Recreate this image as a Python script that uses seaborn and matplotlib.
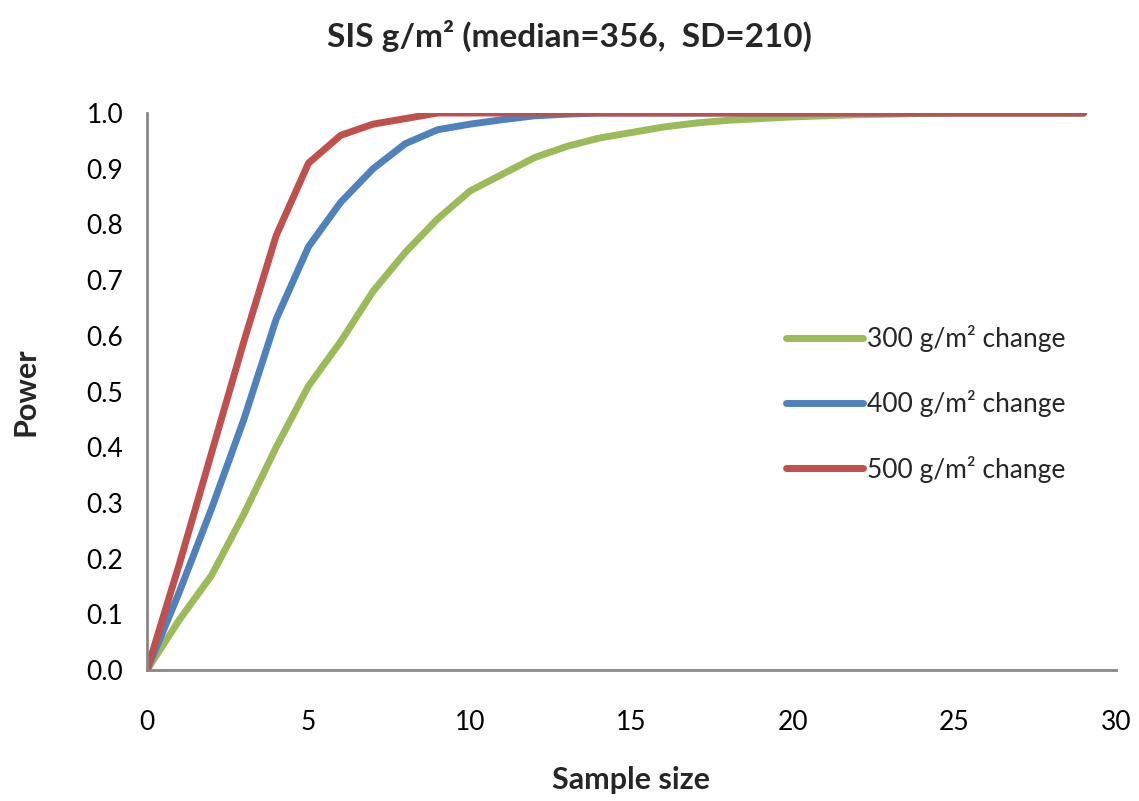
import matplotlib
matplotlib.use("Agg")
import matplotlib.pyplot as plt
import pandas as pd
import seaborn as sns

sample_size = list(range(30))
power_300 = [0.0, 0.09, 0.17, 0.28, 0.40, 0.51, 0.59, 0.68, 0.75, 0.81,
             0.86, 0.89, 0.92, 0.94, 0.955, 0.965, 0.975, 0.982, 0.987, 0.99,
             0.993, 0.995, 0.997, 0.998, 0.999, 1.0, 1.0, 1.0, 1.0, 1.0]
power_400 = [0.0, 0.14, 0.29, 0.45, 0.63, 0.76, 0.84, 0.90, 0.945, 0.97,
             0.98, 0.988, 0.995, 0.998, 1.0, 1.0, 1.0, 1.0, 1.0, 1.0,
             1.0, 1.0, 1.0, 1.0, 1.0, 1.0, 1.0, 1.0, 1.0, 1.0]
power_500 = [0.0, 0.19, 0.39, 0.59, 0.78, 0.91, 0.96, 0.98, 0.99, 1.0,
             1.0, 1.0, 1.0, 1.0, 1.0, 1.0, 1.0, 1.0, 1.0, 1.0,
             1.0, 1.0, 1.0, 1.0, 1.0, 1.0, 1.0, 1.0, 1.0, 1.0]
labels = ["300 g/m² change", "400 g/m² change", "500 g/m² change"]
colors = ["#9BBB59", "#4F81BD", "#C0504D"]

df = pd.concat([
    pd.DataFrame({"n": sample_size, "power": p, "series": lab})
    for p, lab in zip([power_300, power_400, power_500], labels)
])

sns.set_style("white")
plt.rcParams["font.family"] = ["Lato", "DejaVu Sans"]

fig = plt.figure(figsize=(11.39, 8.01), dpi=100)
ax = fig.add_axes([147 / 1139, 1 - 670 / 801, 969 / 1139, 557 / 801])

sns.lineplot(data=df, x="n", y="power", hue="series", palette=colors,
             linewidth=5, ax=ax, solid_capstyle="round", solid_joinstyle="round")

ax.set_xlim(0, 30)
ax.set_ylim(0, 1.0)
ax.set_xticks(range(0, 31, 5))
ax.set_yticks([i / 10 for i in range(11)])
ax.set_yticklabels([f"{i / 10:.1f}" for i in range(11)])
for s in ["top", "right"]:
    ax.spines[s].set_visible(False)
for s in ["left", "bottom"]:
    ax.spines[s].set_color("#878787")
    ax.spines[s].set_linewidth(2)
ax.tick_params(axis="both", direction="out", length=7, width=2, color="#878787",
               labelsize=19, labelcolor="black")
ax.tick_params(axis="x", pad=22)
ax.tick_params(axis="y", pad=10)

ax.set_xlabel("Sample size", fontsize=22, fontweight="bold", labelpad=22)
ax.set_ylabel("Power", fontsize=22, fontweight="bold", labelpad=34)
fig.suptitle("SIS g/m² (median=356,  SD=210)", fontsize=24, fontweight="bold", y=0.975)

ax.legend(loc="center left", bbox_to_anchor=(0.635, 0.478), frameon=False,
          fontsize=19, handlelength=2.9, handletextpad=0.15, labelspacing=1.45)

fig.savefig("out.png", dpi=100)
